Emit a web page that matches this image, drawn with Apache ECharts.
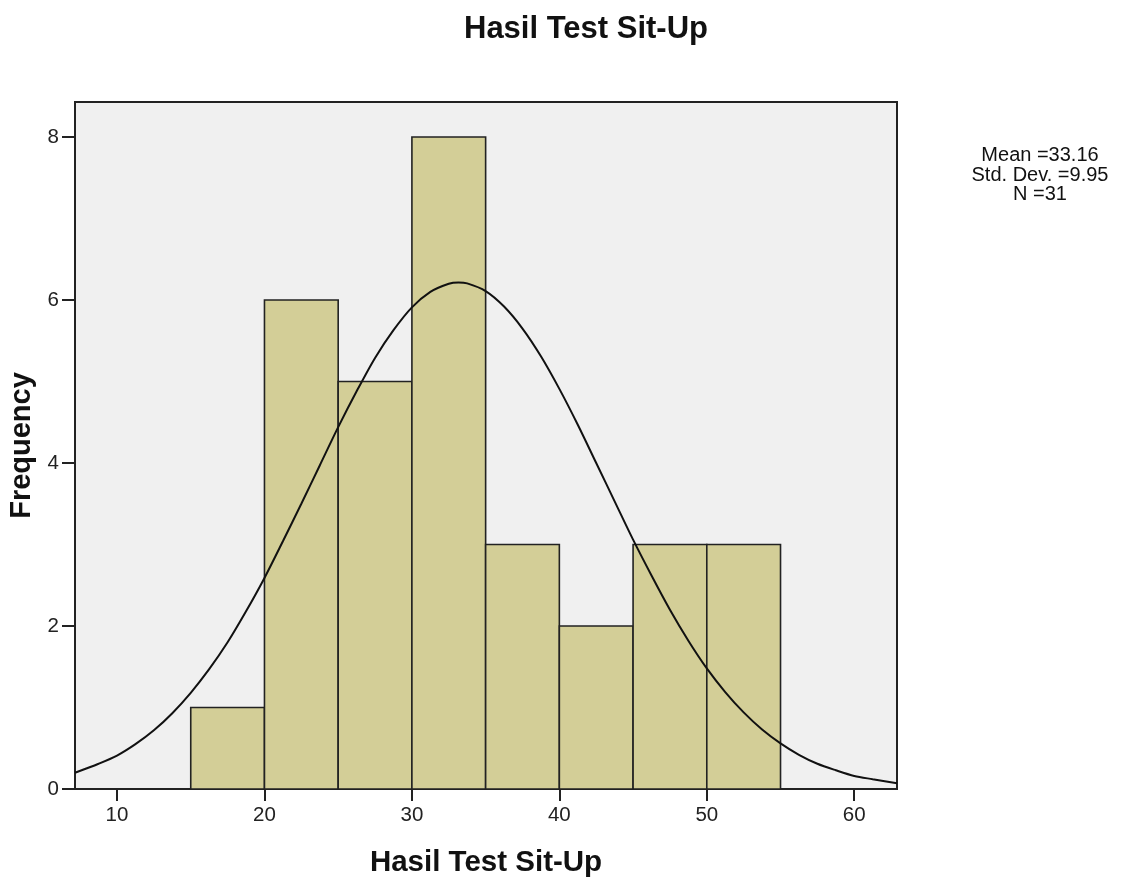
<!DOCTYPE html>
<html><head><meta charset="utf-8">
<script src="https://cdn.jsdelivr.net/npm/echarts@6/dist/echarts.min.js"></script>
<style>html,body{margin:0;padding:0;background:#fff}#c{width:1133px;height:881px}</style>
</head><body><div id="c"></div>
<script>
var binStarts = [15, 20, 25, 30, 35, 40, 45, 50];
var binEnds = [20, 25, 30, 35, 40, 45, 50, 55];
var frequencies = [1, 6, 5, 8, 3, 2, 3, 3];
var curveX = [7.15, 8.75, 10, 11.25, 12.5, 13.75, 15, 16.25, 17.5, 18.75, 20, 21.25, 22.5, 23.75, 25, 26.25, 27.5, 28.75, 30, 31.25, 32.5, 33.16, 33.75, 35, 36.25, 37.5, 38.75, 40, 41.25, 42.5, 43.75, 45, 46.25, 47.5, 48.75, 50, 51.25, 52.5, 53.75, 55, 56.25, 57.5, 58.75, 60, 61.25, 62.9];
var curveY = [0.20, 0.31, 0.41, 0.55, 0.72, 0.93, 1.18, 1.47, 1.80, 2.18, 2.59, 3.04, 3.50, 3.97, 4.44, 4.88, 5.29, 5.63, 5.91, 6.10, 6.20, 6.215, 6.204, 6.11, 5.92, 5.65, 5.31, 4.91, 4.47, 4.00, 3.53, 3.06, 2.62, 2.20, 1.82, 1.48, 1.19, 0.94, 0.73, 0.56, 0.42, 0.31, 0.23, 0.16, 0.12, 0.07];
var xTicks = [10, 20, 30, 40, 50, 60];
var yTicks = [0, 2, 4, 6, 8];
var statsLines = ['Mean =33.16', 'Std. Dev. =9.95', 'N =31'];

var barData = binStarts.map(function (s, i) { return [s, binEnds[i], frequencies[i]]; });
var curveData = curveX.map(function (x, i) { return [x, curveY[i]]; });

var chart = echarts.init(document.getElementById('c'));
var font = 'Arial, "Liberation Sans", sans-serif';
chart.setOption({
  animation: false,
  backgroundColor: '#fff',
  title: {
    text: 'Hasil Test Sit-Up', left: 581, top: 9, textAlign: 'center',
    textStyle: { fontFamily: font, fontSize: 31, fontWeight: 'bold', color: '#111' }
  },
  graphic: [{
    type: 'text', x: 1040, y: 146,
    style: { text: statsLines.join('\n'), align: 'center', verticalAlign: 'top', fontFamily: font, fontSize: 20, lineHeight: 19.5, fill: '#111' }
  }],
  grid: { left: 75, right: 236, top: 102, bottom: 92, outerBoundsMode: 'none', containLabel: false, show: true, backgroundColor: '#f0f0f0', borderColor: '#222', borderWidth: 2 },
  xAxis: {
    type: 'value', min: 7.15, max: 62.9, interval: 10,
    name: 'Hasil Test Sit-Up', nameLocation: 'middle', nameGap: 59,
    nameTextStyle: { fontFamily: font, fontSize: 29.5, fontWeight: 'bold', color: '#111' },
    axisLine: { show: true, lineStyle: { color: '#222', width: 2 } },
    axisTick: { show: true, length: 12, lineStyle: { color: '#222', width: 2 }, customValues: xTicks },
    axisLabel: { fontFamily: font, fontSize: 20.5, color: '#222', margin: 16, customValues: xTicks },
    splitLine: { show: false }
  },
  yAxis: {
    type: 'value', min: 0, max: 8.43, interval: 2,
    name: 'Frequency', nameLocation: 'middle', nameGap: 31, nameRotate: 90,
    nameTextStyle: { fontFamily: font, fontSize: 29, fontWeight: 'bold', color: '#111' },
    axisLine: { show: true, lineStyle: { color: '#222', width: 2 } },
    axisTick: { show: true, length: 13, lineStyle: { color: '#222', width: 2 }, customValues: yTicks },
    axisLabel: { fontFamily: font, fontSize: 20.5, color: '#222', margin: 16, customValues: yTicks },
    splitLine: { show: false }
  },
  series: [{
    type: 'custom',
    data: barData,
    encode: { x: [0, 1], y: 2 },
    renderItem: function (params, api) {
      var p0 = api.coord([api.value(0), 0]);
      var p1 = api.coord([api.value(1), api.value(2)]);
      return {
        type: 'rect',
        shape: { x: p0[0], y: p1[1], width: p1[0] - p0[0], height: p0[1] - p1[1] },
        style: { fill: '#d3ce97', stroke: '#222', lineWidth: 1.6 }
      };
    },
    z: 2
  }, {
    type: 'line',
    data: curveData,
    smooth: 0.3,
    showSymbol: false,
    symbol: 'none',
    lineStyle: { color: '#111', width: 2 },
    z: 3
  }]
});
</script></body></html>
